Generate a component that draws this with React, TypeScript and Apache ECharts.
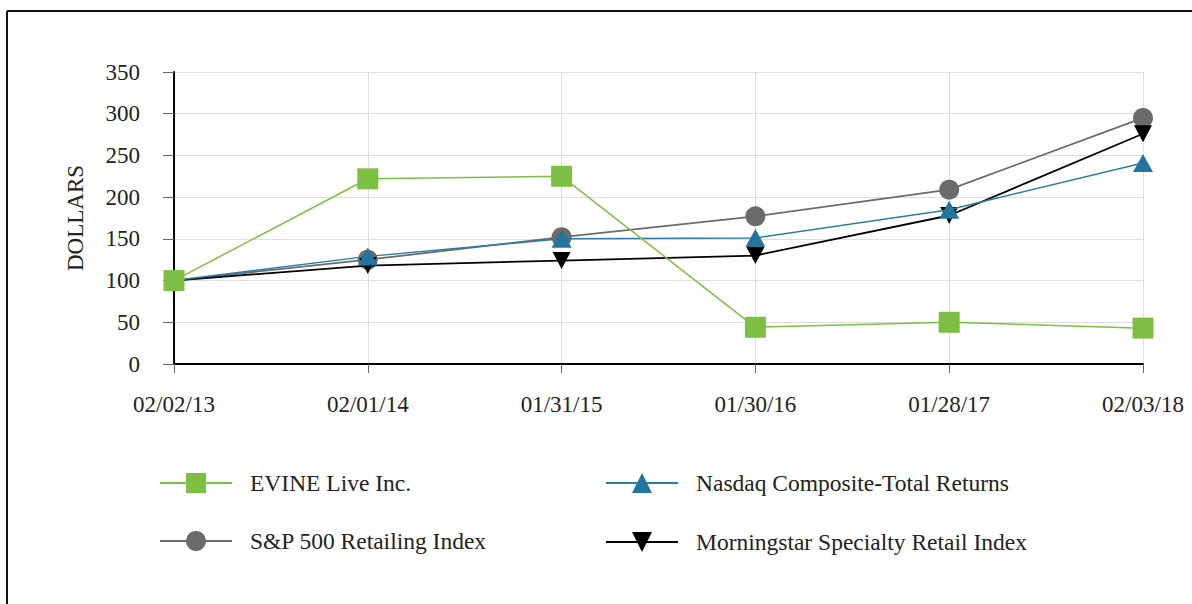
import React, { useEffect, useRef } from "react";
import * as echarts from "echarts";

const categories = ["02/02/13", "02/01/14", "01/31/15", "01/30/16", "01/28/17", "02/03/18"];
const evine = [100, 222, 225, 44, 50, 43];
const nasdaq = [100, 129, 150, 151, 185, 241];
const sp500 = [100, 125, 152, 177, 209, 295];
const morningstar = [100, 118, 124, 130, 178, 276];
const seriesNames = [
  "EVINE Live Inc.",
  "Nasdaq Composite-Total Returns",
  "S&P 500 Retailing Index",
  "Morningstar Specialty Retail Index",
];
const yTicks = { min: 0, max: 350, interval: 50 };

const FONT = "'Liberation Serif', 'Times New Roman', serif";

export default function App() {
  const ref = useRef<HTMLDivElement>(null);
  useEffect(() => {
    if (!ref.current) return;
    const chart = echarts.init(ref.current, null, { renderer: "svg" });
    const legendBase = (name: string, left: number, top: number) => ({
      data: [name],
      left,
      top,
      orient: "horizontal",
      itemWidth: 72,
      itemHeight: 25,
      selectedMode: false,
      textStyle: {
        fontFamily: FONT,
        fontSize: 23.5,
        color: "#222",
        padding: [0, 0, 0, 13],
      },
    });
    chart.setOption({
      animation: false,
      backgroundColor: "#fff",
      graphic: [
        { type: "line", shape: { x1: 7, y1: 11, x2: 1192, y2: 11 }, style: { stroke: "#111", lineWidth: 2 } },
        { type: "line", shape: { x1: 7, y1: 11, x2: 7, y2: 604 }, style: { stroke: "#111", lineWidth: 2 } },
      ],
      grid: { left: 174, right: 49, top: 72, bottom: 240 },
      legend: [
        legendBase(seriesNames[0], 154, 466),
        legendBase(seriesNames[1], 600, 466),
        legendBase(seriesNames[2], 154, 524),
        legendBase(seriesNames[3], 600, 525),
      ],
      xAxis: {
        type: "category",
        data: categories,
        boundaryGap: false,
        axisLine: { lineStyle: { color: "#000", width: 2 } },
        axisTick: { length: 9, lineStyle: { color: "#666" } },
        axisLabel: { fontFamily: FONT, fontSize: 23, color: "#222", margin: 29 },
        splitLine: { show: true, lineStyle: { color: "#dedede", width: 1 } },
      },
      yAxis: {
        type: "value",
        min: yTicks.min,
        max: yTicks.max,
        interval: yTicks.interval,
        name: "DOLLARS",
        nameLocation: "middle",
        nameGap: 87,
        nameTextStyle: { fontFamily: FONT, fontSize: 23, color: "#222" },
        axisLine: { show: true, lineStyle: { color: "#000", width: 2 } },
        axisTick: { show: true, length: 11, lineStyle: { color: "#666" } },
        axisLabel: { fontFamily: FONT, fontSize: 23, color: "#222", margin: 34 },
        splitLine: { show: true, lineStyle: { color: "#dedede", width: 1 } },
      },
      series: [
        {
          name: seriesNames[2],
          type: "line",
          data: sp500,
          symbol: "circle",
          symbolSize: 20,
          z: 2,
          itemStyle: { color: "#6b6b6b" },
          lineStyle: { color: "#6b6b6b", width: 1.8 },
        },
        {
          name: seriesNames[3],
          type: "line",
          data: morningstar,
          symbol: "triangle",
          symbolRotate: 180,
          symbolSize: [18, 17],
          z: 3,
          itemStyle: { color: "#000" },
          lineStyle: { color: "#000", width: 1.8 },
        },
        {
          name: seriesNames[1],
          type: "line",
          data: nasdaq,
          symbol: "triangle",
          symbolSize: [20, 18],
          z: 4,
          itemStyle: { color: "#22759f" },
          lineStyle: { color: "#2d7ca6", width: 1.5 },
        },
        {
          name: seriesNames[0],
          type: "line",
          data: evine,
          symbol: "rect",
          symbolSize: 21,
          z: 5,
          itemStyle: { color: "#7dbf43" },
          lineStyle: { color: "#7dbf43", width: 1.5 },
        },
      ],
    });
    return () => chart.dispose();
  }, []);
  return (
    <div
      ref={ref}
      style={{ position: "fixed", left: 0, top: 0, width: 1192, height: 604, background: "#fff" }}
    />
  );
}
